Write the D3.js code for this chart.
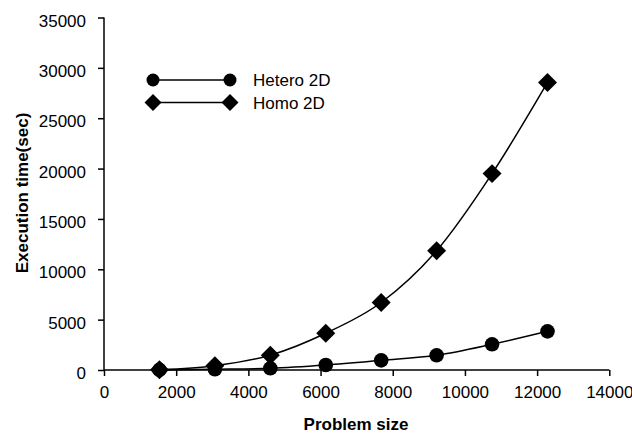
<!DOCTYPE html>
<meta charset="utf-8">
<style>
  body { margin: 0; background: #fff; }
  text { font-family: "Liberation Sans", Arial, sans-serif; fill: #000; }
</style>
<svg width="632" height="434"></svg>
<script src="https://d3js.org/d3.v7.min.js"></script>
<script>

var sizes = [1536, 3072, 4608, 6144, 7680, 9216, 10752, 12288];
var hetero = [10, 70, 170, 500, 960, 1460, 2550, 3840];
var homo = [20, 420, 1470, 3650, 6700, 11850, 19500, 28550];
var xTicks = [0, 2000, 4000, 6000, 8000, 10000, 12000, 14000];
var yTicks = [0, 5000, 10000, 15000, 20000, 25000, 30000, 35000];
var seriesNames = ['Hetero 2D', 'Homo 2D'];

var svg = d3.select("svg"),
    width = +svg.attr("width"),
    height = +svg.attr("height");

var margin = {left: 104, right: 22.7, top: 17.5, bottom: 64};

var x = d3.scaleLinear().domain([0, 14000]).range([margin.left, width - margin.right]);
var y = d3.scaleLinear().domain([0, 35000]).range([height - margin.bottom, margin.top]);

var circle = d3.symbol().type(d3.symbolCircle).size(Math.PI * 7.3 * 7.3);
var diamond = d3.symbol().type(d3.symbolSquare).size(13.4 * 13.4);

// axes
var xAxis = svg.append("g")
    .attr("transform", "translate(0," + y(0) + ")")
    .call(d3.axisBottom(x).tickValues(xTicks).tickSize(6).tickPadding(10).tickFormat(d3.format("d")));
var yAxis = svg.append("g")
    .attr("transform", "translate(" + x(0) + ",0)")
    .call(d3.axisLeft(y).tickValues(yTicks).tickSize(6).tickPadding(12).tickFormat(d3.format("d")));

[xAxis, yAxis].forEach(function(a) {
  a.selectAll("path, line").attr("stroke", "#000").attr("stroke-width", 1.5);
  a.selectAll("text").attr("font-size", 17).attr("font-family", "Liberation Sans, Arial, sans-serif").attr("fill", "#000");
});
xAxis.select(".domain").attr("d", "M" + x(0) + ",0H" + x(14000));
yAxis.select(".domain").attr("d", "M0," + y(35000) + "V" + y(0));
xAxis.selectAll("text").attr("dy", "0.72em");
yAxis.selectAll("text").attr("dy", "0.5em");

// titles
svg.append("text")
  .attr("x", 356).attr("y", 430)
  .attr("text-anchor", "middle")
  .attr("font-size", 17).attr("font-weight", "bold")
  .text("Problem size");

svg.append("text")
  .attr("transform", "translate(28,193) rotate(-90)")
  .attr("text-anchor", "middle")
  .attr("font-size", 17).attr("font-weight", "bold")
  .text("Execution time(sec)");

// series
var line = d3.line()
  .x(function(d) { return x(d[0]); })
  .y(function(d) { return y(d[1]); })
  .curve(d3.curveCatmullRom.alpha(0));

var series = [
  {name: seriesNames[0], values: hetero, sym: circle, rot: 0},
  {name: seriesNames[1], values: homo, sym: diamond, rot: 45}
];

series.forEach(function(s) {
  var pts = sizes.map(function(v, i) { return [v, s.values[i]]; });
  svg.append("path")
    .attr("d", line(pts))
    .attr("fill", "none")
    .attr("stroke", "#000")
    .attr("stroke-width", 1.5);
  svg.append("g").selectAll("path")
    .data(pts)
    .enter().append("path")
    .attr("d", s.sym)
    .attr("fill", "#000")
    .attr("transform", function(d) { return "translate(" + x(d[0]) + "," + y(d[1]) + ") rotate(" + s.rot + ")"; });
});

// legend
var legendY = [80, 102.5];
series.forEach(function(s, i) {
  var g = svg.append("g").attr("transform", "translate(0," + legendY[i] + ")");
  g.append("line")
    .attr("x1", 153).attr("x2", 230)
    .attr("stroke", "#000").attr("stroke-width", 1.5);
  [153, 230].forEach(function(px) {
    g.append("path")
      .attr("d", i === 0 ? d3.symbol().type(d3.symbolCircle).size(Math.PI * 6.5 * 6.5)() : d3.symbol().type(d3.symbolSquare).size(12 * 12)())
      .attr("fill", "#000")
      .attr("transform", "translate(" + px + ",0) rotate(" + s.rot + ")");
  });
  g.append("text")
    .attr("x", 253).attr("y", 0).attr("dy", "0.36em")
    .attr("font-size", 17)
    .text(s.name);
});

</script>
